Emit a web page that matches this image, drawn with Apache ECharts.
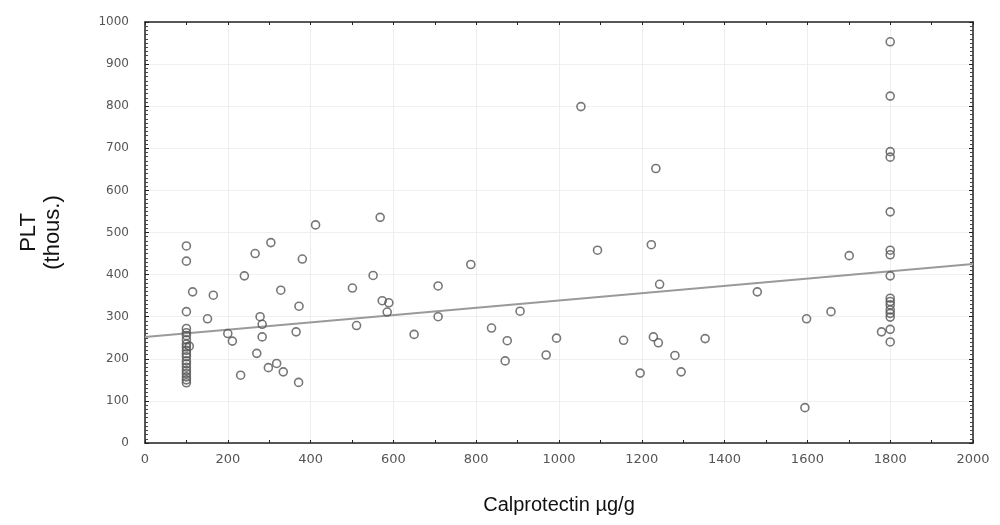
<!DOCTYPE html>
<html>
<head>
<meta charset="utf-8">
<script src="https://cdn.jsdelivr.net/npm/echarts@6/dist/echarts.min.js"></script>
<style>html,body{margin:0;padding:0;background:#fff}#c{width:1000px;height:525px}</style>
</head>
<body>
<div id="c"></div>
<script>
var calprotectin = [100,100,100,100,100,100,100,100,100,100,100,100,100,100,100,100,100,100,100,100,
  107,115,165,151,200,211,231,240,266,304,380,328,278,283,283,270,298,318,334,372,365,371,
  412,568,501,551,708,573,589,585,511,708,650,
  1053,1234,787,1093,1223,1243,906,837,875,870,969,994,1156,1228,1240,1280,1295,1196,1353,
  1479,1701,1657,1598,1594,1779,
  1800,1800,1800,1800,1800,1800,1800,1800,1800,1800,1800,1800,1800,1800,1800,1800];
var plt = [468,432,312,272,262,255,245,235,228,220,212,205,195,188,180,172,165,157,150,143,
  230,359,351,295,260,242,161,397,450,476,437,363,300,282,252,213,179,189,169,325,264,144,
  518,536,368,398,373,338,333,311,279,300,258,
  799,652,424,458,471,377,313,273,243,195,209,249,244,252,238,208,169,166,248,
  359,445,312,295,84,264,
  953,824,692,679,549,458,447,397,344,336,328,316,308,299,270,240];
var fitX = [0, 2000];
var fitY = [252, 425];
var xTicks = [0,200,400,600,800,1000,1200,1400,1600,1800,2000];
var yTicks = [0,100,200,300,400,500,600,700,800,900,1000];

var points = calprotectin.map(function(v,i){return [v, plt[i]];});
var fit = fitX.map(function(v,i){return [v, fitY[i]];});

var labelStyle = {color:'#555', fontFamily:'DejaVu Sans', fontSize:12};
var chart = echarts.init(document.getElementById('c'), null, {renderer:'canvas'});
chart.setOption({
  animation:false,
  grid:{left:145, right:27, top:22, bottom:82, containLabel:false},
  xAxis:[{
    type:'value', min:0, max:2000, interval:200, position:'bottom',
    axisLine:{show:true, onZero:false, lineStyle:{color:'#222', width:1.5}},
    axisTick:{show:true, inside:true, length:3, lineStyle:{color:'#222'}},
    minorTick:{show:true, splitNumber:2, length:3, lineStyle:{color:'#222'}},
    splitLine:{show:true, lineStyle:{color:'#eeeeee', width:1}},
    axisLabel:{show:true, margin:10, formatter:function(v){return xTicks.indexOf(v)>=0?String(v):'';}, color:'#555', fontFamily:'DejaVu Sans', fontSize:13},
    name:'Calprotectin µg/g', nameLocation:'middle', nameGap:52,
    nameTextStyle:{color:'#111', fontFamily:'Liberation Sans', fontSize:20}
  },{
    type:'value', min:0, max:2000, interval:200, position:'top',
    axisLine:{show:true, onZero:false, lineStyle:{color:'#222', width:1.5}},
    axisTick:{show:true, inside:true, length:3, lineStyle:{color:'#222'}},
    minorTick:{show:true, splitNumber:2, length:3, lineStyle:{color:'#222'}},
    splitLine:{show:false}, axisLabel:{show:false}
  }],
  yAxis:[{
    type:'value', min:0, max:1000, interval:100, position:'left',
    axisLine:{show:true, onZero:false, lineStyle:{color:'#222', width:1.5}},
    axisTick:{show:true, inside:true, length:4, lineStyle:{color:'#222'}},
    minorTick:{show:true, splitNumber:10, length:3, lineStyle:{color:'#444'}},
    splitLine:{show:true, lineStyle:{color:'#f0f0f0', width:1}},
    axisLabel:{show:true, margin:16, formatter:function(v){return yTicks.indexOf(v)>=0?String(v):'';}, color:'#555', fontFamily:'DejaVu Sans', fontSize:12},
    name:'PLT\n(thous.)', nameLocation:'middle', nameGap:80, nameRotate:90,
    nameTextStyle:{color:'#111', fontFamily:'Liberation Sans', fontSize:22, lineHeight:24}
  },{
    type:'value', min:0, max:1000, interval:100, position:'right',
    axisLine:{show:true, onZero:false, lineStyle:{color:'#222', width:1.5}},
    axisTick:{show:true, inside:true, length:4, lineStyle:{color:'#222'}},
    minorTick:{show:true, splitNumber:10, length:3, lineStyle:{color:'#444'}},
    splitLine:{show:false}, axisLabel:{show:false}
  }],
  series:[{
    type:'line', data:fit, xAxisIndex:0, yAxisIndex:0, showSymbol:false, symbol:'none',
    lineStyle:{color:'#9a9a9a', width:2}, z:2
  },{
    type:'scatter', data:points, xAxisIndex:0, yAxisIndex:0,
    symbol:'circle', symbolSize:8,
    itemStyle:{color:'rgba(255,255,255,0)', borderColor:'#555', borderWidth:1.6}, z:3
  }]
});
</script>
</body>
</html>
